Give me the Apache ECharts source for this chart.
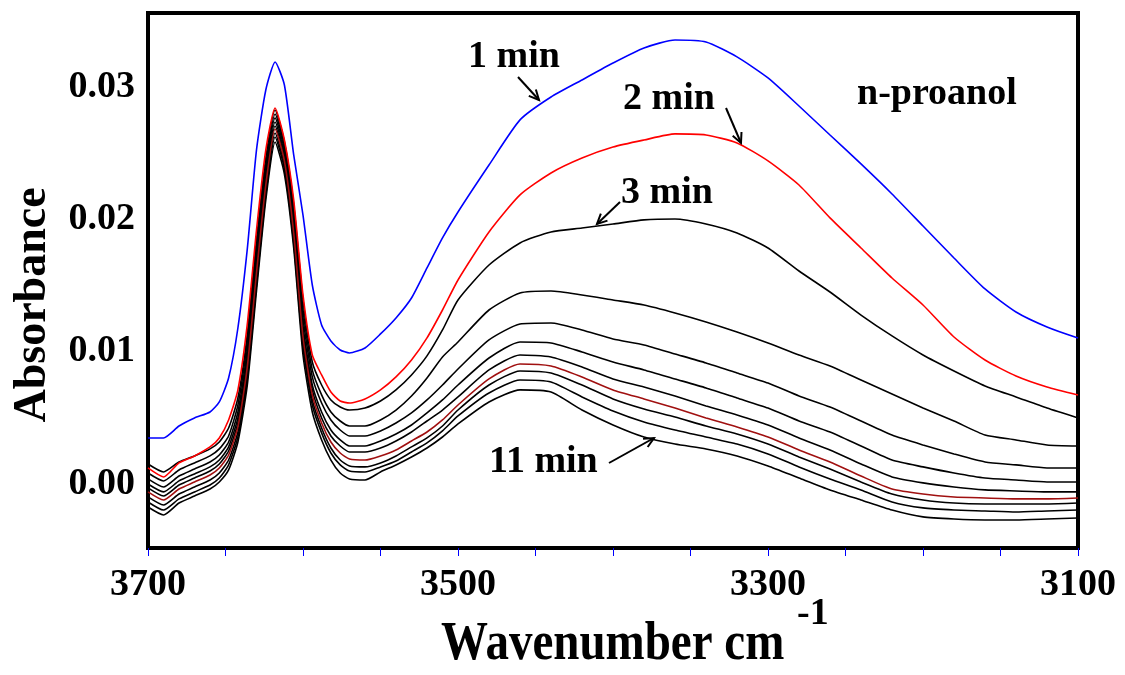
<!DOCTYPE html>
<html>
<head>
<meta charset="utf-8">
<script src="https://cdn.jsdelivr.net/npm/echarts@6/dist/echarts.min.js"></script>
<style>html,body{margin:0;padding:0;background:#fff}#c{width:1125px;height:675px}</style>
</head>
<body>
<div id="c"></div>
<script>
const wavenumber = [3700,3690,3680,3670,3660,3654,3648,3642,3636,3630,3624,3618,3612,3606,3600,3594,3588,3582,3576,3570,3560,3550,3540,3530,3520,3510,3500,3480,3460,3440,3420,3400,3380,3360,3340,3320,3300,3280,3260,3240,3220,3200,3180,3160,3140,3120,3100];

const min1 = [0.00348,0.00348,0.00438,0.00499,0.00544,0.00620,0.00801,0.01179,0.01769,0.02525,0.02978,0.03190,0.03016,0.02487,0.02033,0.01504,0.01202,0.01081,0.01013,0.00990,0.01028,0.01134,0.01255,0.01406,0.01633,0.01860,0.02056,0.02411,0.02752,0.02925,0.03054,0.03182,0.03296,0.03356,0.03341,0.03228,0.03069,0.02857,0.02638,0.02419,0.02192,0.01950,0.01708,0.01474,0.01300,0.01187,0.01104];
const min2 = [0.00121,0.00053,0.00159,0.00212,0.00280,0.00348,0.00484,0.00711,0.01202,0.01920,0.02525,0.02842,0.02600,0.02147,0.01429,0.00975,0.00824,0.00695,0.00627,0.00612,0.00643,0.00711,0.00809,0.00937,0.01104,0.01315,0.01542,0.01905,0.02185,0.02351,0.02464,0.02547,0.02600,0.02646,0.02638,0.02578,0.02442,0.02260,0.02011,0.01784,0.01557,0.01353,0.01111,0.00937,0.00816,0.00733,0.00673];
const min3 = [0.00151,0.00091,0.00166,0.00212,0.00265,0.00317,0.00423,0.00650,0.01126,0.01844,0.02464,0.02827,0.02585,0.02109,0.01391,0.00922,0.00748,0.00635,0.00582,0.00559,0.00574,0.00627,0.00711,0.00824,0.00968,0.01164,0.01391,0.01655,0.01822,0.01905,0.01935,0.01965,0.01996,0.02003,0.01965,0.01897,0.01784,0.01610,0.01451,0.01277,0.01119,0.00975,0.00854,0.00741,0.00658,0.00574,0.00499];
const min4 = [0.00083,0.00023,0.00106,0.00159,0.00212,0.00265,0.00363,0.00597,0.01073,0.01784,0.02411,0.02797,0.02555,0.02056,0.01315,0.00862,0.00673,0.00544,0.00476,0.00438,0.00438,0.00484,0.00559,0.00665,0.00801,0.00960,0.01073,0.01315,0.01444,0.01459,0.01429,0.01391,0.01353,0.01293,0.01225,0.01149,0.01066,0.00975,0.00892,0.00786,0.00680,0.00574,0.00476,0.00370,0.00333,0.00295,0.00287];
const min5 = [0.00038,-0.00023,0.00060,0.00113,0.00166,0.00219,0.00317,0.00544,0.01013,0.01731,0.02374,0.02767,0.02525,0.02011,0.01255,0.00809,0.00612,0.00484,0.00408,0.00363,0.00363,0.00401,0.00461,0.00537,0.00635,0.00748,0.00869,0.01089,0.01209,0.01217,0.01164,0.01096,0.01051,0.00983,0.00915,0.00839,0.00763,0.00665,0.00582,0.00476,0.00370,0.00295,0.00227,0.00166,0.00144,0.00121,0.00121];
const min6 = [0.00000,-0.00060,0.00023,0.00076,0.00129,0.00181,0.00280,0.00499,0.00960,0.01678,0.02328,0.02736,0.02494,0.01965,0.01194,0.00748,0.00544,0.00408,0.00333,0.00287,0.00287,0.00325,0.00378,0.00446,0.00537,0.00635,0.00748,0.00952,0.01073,0.01066,0.00998,0.00922,0.00862,0.00794,0.00726,0.00650,0.00574,0.00476,0.00393,0.00287,0.00181,0.00129,0.00083,0.00045,0.00030,0.00015,0.00015];
const min7 = [-0.00030,-0.00091,-0.00008,0.00045,0.00098,0.00151,0.00249,0.00461,0.00915,0.01633,0.02290,0.02706,0.02464,0.01928,0.01149,0.00711,0.00499,0.00363,0.00287,0.00242,0.00242,0.00272,0.00325,0.00393,0.00476,0.00559,0.00658,0.00862,0.00975,0.00960,0.00884,0.00794,0.00733,0.00665,0.00590,0.00522,0.00446,0.00348,0.00257,0.00151,0.00053,0.00008,-0.00023,-0.00045,-0.00053,-0.00060,-0.00060];
const min8 = [-0.00060,-0.00121,-0.00038,0.00015,0.00068,0.00121,0.00219,0.00431,0.00877,0.01595,0.02260,0.02683,0.02442,0.01897,0.01111,0.00673,0.00461,0.00317,0.00234,0.00189,0.00181,0.00212,0.00257,0.00325,0.00393,0.00484,0.00597,0.00794,0.00907,0.00892,0.00809,0.00711,0.00643,0.00574,0.00499,0.00431,0.00355,0.00257,0.00166,0.00060,-0.00038,-0.00076,-0.00098,-0.00106,-0.00113,-0.00113,-0.00106];
const min9 = [-0.00098,-0.00159,-0.00076,-0.00023,0.00030,0.00083,0.00181,0.00393,0.00831,0.01550,0.02222,0.02653,0.02411,0.01860,0.01073,0.00635,0.00423,0.00272,0.00181,0.00136,0.00129,0.00159,0.00212,0.00280,0.00348,0.00438,0.00559,0.00748,0.00854,0.00839,0.00748,0.00643,0.00567,0.00506,0.00438,0.00378,0.00302,0.00204,0.00113,0.00015,-0.00076,-0.00121,-0.00144,-0.00151,-0.00151,-0.00151,-0.00144];
const min10 = [-0.00136,-0.00197,-0.00113,-0.00060,-0.00008,0.00045,0.00144,0.00355,0.00786,0.01504,0.02185,0.02623,0.02381,0.01822,0.01028,0.00597,0.00386,0.00234,0.00144,0.00098,0.00091,0.00129,0.00174,0.00242,0.00310,0.00401,0.00514,0.00688,0.00786,0.00771,0.00658,0.00552,0.00469,0.00408,0.00355,0.00302,0.00227,0.00129,0.00038,-0.00045,-0.00136,-0.00181,-0.00197,-0.00204,-0.00212,-0.00204,-0.00197];
const min11 = [-0.00174,-0.00234,-0.00144,-0.00091,-0.00038,0.00015,0.00106,0.00317,0.00741,0.01459,0.02147,0.02585,0.02343,0.01784,0.00975,0.00544,0.00333,0.00181,0.00083,0.00038,0.00030,0.00091,0.00144,0.00204,0.00272,0.00355,0.00454,0.00620,0.00711,0.00695,0.00559,0.00446,0.00355,0.00302,0.00265,0.00212,0.00136,0.00045,-0.00045,-0.00121,-0.00197,-0.00249,-0.00265,-0.00272,-0.00272,-0.00265,-0.00257];

const xLabelValues = [3100, 3300, 3500, 3700];
const xTickValues = [3100,3150,3200,3250,3300,3350,3400,3450,3500,3550,3600,3650,3700];
const yLabelValues = [0, 0.01, 0.02, 0.03];

const FONT = '"Liberation Serif","Times New Roman",serif';

const curves = [
  {name:'11 min', v:min11, c:'#000000'},
  {name:'10 min', v:min10, c:'#000000'},
  {name:'9 min', v:min9, c:'#000000'},
  {name:'7 min', v:min7, c:'#000000'},
  {name:'6 min', v:min6, c:'#000000'},
  {name:'5 min', v:min5, c:'#000000'},
  {name:'4 min', v:min4, c:'#000000'},
  {name:'3 min', v:min3, c:'#000000'},
  {name:'8 min', v:min8, c:'#a01010'},
  {name:'2 min', v:min2, c:'#ff0000'},
  {name:'1 min', v:min1, c:'#0000ff'}
];

function arrow(x1, y1, x2, y2) {
  const a = Math.atan2(y2 - y1, x2 - x1), L = 11, s = 0.45;
  const p1 = [x2 - L * Math.cos(a - s), y2 - L * Math.sin(a - s)];
  const p2 = [x2 - L * Math.cos(a + s), y2 - L * Math.sin(a + s)];
  const st = {stroke:'#000', lineWidth:2, fill:null};
  return [
    {type:'polyline', shape:{points:[[x1,y1],[x2,y2]]}, style:st, z:100},
    {type:'polyline', shape:{points:[p1,[x2,y2],p2]}, style:st, z:100}
  ];
}
function label(text, x, y, align) {
  return {type:'text', z:100, style:{text:text, x:x, y:y, fill:'#000', font:'bold 38px ' + FONT, textAlign:align||'left', textVerticalAlign:'middle'}};
}

const chart = echarts.init(document.getElementById('c'), null, {renderer:'canvas'});
chart.setOption({
  animation:false,
  backgroundColor:'#fff',
  grid:{left:148, right:47, top:13, bottom:127, show:true, borderColor:'#000', borderWidth:4, containLabel:false},
  xAxis:{
    type:'value', min:3100, max:3700, inverse:true, position:'bottom',
    axisLine:{show:false, onZero:false},
    axisTick:{show:true, inside:false, length:8, lineStyle:{color:'#0000ff', width:1}, customValues:xTickValues},
    axisLabel:{customValues:xLabelValues, margin:18, color:'#000', fontFamily:FONT, fontWeight:'bold', fontSize:38,
      formatter:function(v){return String(v);}},
    splitLine:{show:false}
  },
  yAxis:{
    type:'value', min:-0.00484, max:0.0356,
    axisLine:{show:false, onZero:false}, axisTick:{show:false}, splitLine:{show:false},
    axisLabel:{customValues:yLabelValues, margin:13, color:'#000', fontFamily:FONT, fontWeight:'bold', fontSize:38,
      formatter:function(v){return v.toFixed(2);}}
  },
  series: curves.map(function(cv){
    return {type:'line', name:cv.name, data:wavenumber.map(function(w,i){return [w, cv.v[i]];}),
      showSymbol:false, smooth:0.2, lineStyle:{color:cv.c, width:1.6}, itemStyle:{color:cv.c}};
  }),
  graphic:[
    label('1 min', 468, 57),
    label('2 min', 623, 99),
    label('3 min', 621, 193),
    label('11 min', 489, 462),
    label('n-proanol', 857, 94),
    {type:'text', z:100, style:{text:'Absorbance', x:33, y:305, fill:'#000', font:'bold 46px ' + FONT, textAlign:'center', textVerticalAlign:'middle'}, rotation:Math.PI/2, originX:33, originY:305},
    {type:'text', z:100, scaleY:1.15, originX:441, originY:645, style:{text:'Wavenumber cm', x:441, y:645, fill:'#000', font:'bold 47px ' + FONT, textAlign:'left', textVerticalAlign:'middle'}},
    {type:'text', z:100, style:{text:'-1', x:797, y:614, fill:'#000', font:'bold 38px ' + FONT, textAlign:'left', textVerticalAlign:'middle'}}
  ].concat(arrow(518,77,539,100), arrow(726,108,741,143), arrow(620,202,597,224), arrow(609,463,654,438))
});
</script>
</body>
</html>
